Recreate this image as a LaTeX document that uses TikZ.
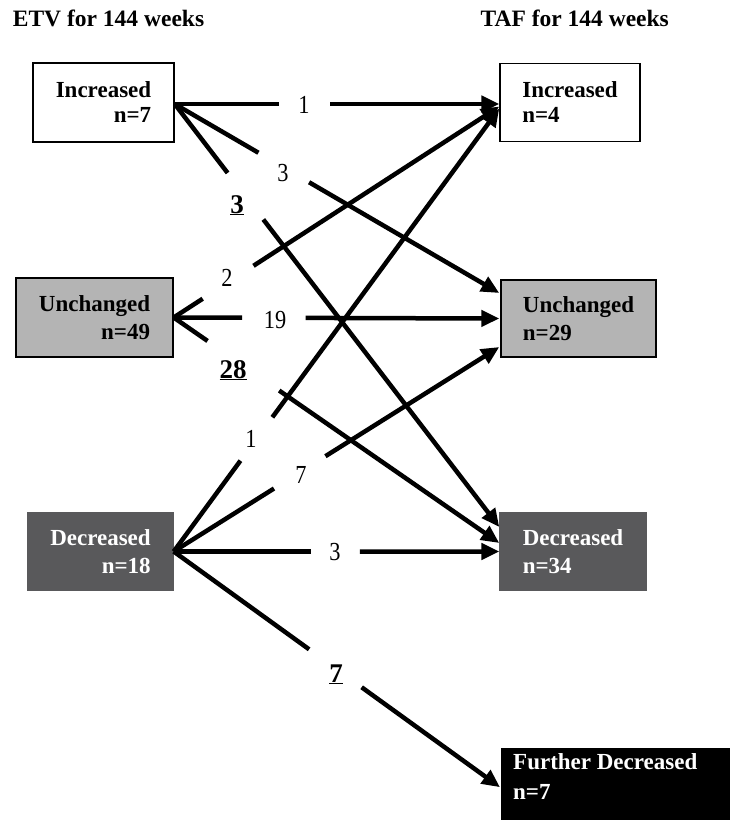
\documentclass[tikz,border=0pt]{standalone}
\usepackage{fontspec}
\setmainfont{Liberation Serif}
\newfontfamily\labfont[FakeStretch=0.86]{Liberation Serif}
\usetikzlibrary{arrows.meta,calc}
\definecolor{midgray}{RGB}{180,180,180}
\definecolor{darkgray}{RGB}{89,89,91}
\begin{document}
\begin{tikzpicture}[x=1pt,y=-1pt,
  boxtxt/.style={font=\fontsize{23}{28}\selectfont\bfseries, inner sep=0pt, draw=black, line width=1.4pt},
  lbox/.style={boxtxt, align=right},
  rbox/.style={boxtxt, align=left},
  darkbox/.style={fill=darkgray, draw=darkgray, text=white},
  graybox/.style={fill=midgray},
  conn/.style={line width=4.5pt},
  arr/.style={line width=4.5pt, -{Triangle[length=18pt,width=16pt]}},
  lab/.style={font=\labfont\fontsize{26}{26}\selectfont, inner sep=0pt, anchor=base},
  blab/.style={font=\fontsize{27}{27}\selectfont\bfseries, inner sep=0pt, anchor=base},
  ttl/.style={font=\fontsize{23.5}{26}\selectfont\bfseries, inner sep=0pt, anchor=base west},
]
\useasboundingbox (0,0) rectangle (729,820);

% titles
\node[ttl] (t1) at (12.7,26.7) {ETV for 144 weeks};
\node[ttl] (t2) at (480.5,26.7) {TAF for 144 weeks};

% boxes
\node[lbox, minimum width=141pt, minimum height=79pt, font=\fontsize{23}{25}\selectfont\bfseries] (incL) at (103.5,102.5) {Increased\\n=7};
\node[lbox, graybox, minimum width=157pt, minimum height=79pt] (unchL) at (94.5,317.5) {Unchanged\\n=49};
\node[lbox, darkbox, minimum width=145pt, minimum height=77pt] (decL) at (100.5,551.5) {Decreased\\n=18};

\node[rbox, minimum width=140pt, minimum height=78pt, font=\fontsize{23}{25}\selectfont\bfseries] (incR) at (570,102.5) {Increased\\n=4};
\node[rbox, graybox, minimum width=155pt, minimum height=77pt] (unchR) at (578.5,318.5) {Unchanged\\n=29};
\node[rbox, darkbox, minimum width=146pt, minimum height=77pt] (decR) at (573,551.5) {Decreased\\n=34};

\node[fill=black, draw=black, inner sep=0pt, minimum width=240pt, minimum height=80pt, anchor=north west] (fd) at (501,748) {};
\node[font=\fontsize{23}{30}\selectfont\bfseries, text=white, align=left, inner sep=0pt, anchor=north west] (fdtxt) at (513,753) {Further Decreased\\n=7};

% origins and tips
\coordinate (oI) at ($(incL.east)+(0,1.5)$);
\coordinate (oU) at (unchL.east);
\coordinate (oD) at (decL.east);
\coordinate (iR1) at ($(incR.west)+(0,1.5)$);
\coordinate (iR2) at ($(incR.west)+(0,4)$);
\coordinate (iR3) at ($(incR.west)+(0,6)$);
\coordinate (uR1) at ($(unchR.west)+(-1,-25.5)$);
\coordinate (uR2) at ($(unchR.west)+(-1,0)$);
\coordinate (uR3) at ($(unchR.west)+(-1,28.5)$);
\coordinate (dR1) at ($(decR.west)+(0,-24.5)$);
\coordinate (dR2) at ($(decR.west)+(0,-8.5)$);
\coordinate (dR3) at (decR.west);
\coordinate (fT) at ($(fd.west)+(-1,-1)$);

% connectors from ETV Increased
\draw[conn] (oI) -- ($(oI)!0.322!(iR1)$);
\draw[arr] ($(oI)!0.479!(iR1)$) -- (iR1);
\draw[conn] (oI) -- ($(oI)!0.258!(uR1)$);
\draw[arr] ($(oI)!0.414!(uR1)$) -- (uR1);
\draw[conn] (oI) -- ($(oI)!0.163!(dR1)$);
\draw[arr] ($(oI)!0.273!(dR1)$) -- (dR1);

% connectors from ETV Unchanged
\draw[conn] (oU) -- ($(oU)!0.089!(iR2)$);
\draw[arr] ($(oU)!0.245!(iR2)$) -- (iR2);
\draw[conn] (oU) -- ($(oU)!0.210!(uR2)$);
\draw[arr] ($(oU)!0.405!(uR2)$) -- (uR2);
\draw[conn] (oU) -- ($(oU)!0.104!(dR2)$);
\draw[arr] ($(oU)!0.324!(dR2)$) -- (dR2);

% connectors from ETV Decreased
\draw[conn] (oD) -- ($(oD)!0.205!(iR3)$);
\draw[arr] ($(oD)!0.303!(iR3)$) -- (iR3);
\draw[conn] (oD) -- ($(oD)!0.308!(uR3)$);
\draw[arr] ($(oD)!0.466!(uR3)$) -- (uR3);
\draw[conn] (oD) -- ($(oD)!0.422!(dR3)$);
\draw[arr] ($(oD)!0.572!(dR3)$) -- (dR3);
\draw[conn] (oD) -- ($(oD)!0.415!(fT)$);
\draw[arr] ($(oD)!0.576!(fT)$) -- (fT);

% labels
\node[lab] (l1) at (304,113) {1};
\node[lab] (l2) at (283,181) {3};
\node[blab] (l3) at (237,213) {\underline{3}};
\node[lab] (l4) at (227,286) {2};
\node[lab] (l5) at (275,328) {19};
\node[blab] (l6) at (233,378) {\underline{28}};
\node[lab] (l7) at (251,447) {1};
\node[lab] (l8) at (301,483) {7};
\node[lab] (l9) at (335,560) {3};
\node[blab] (l10) at (336,682) {\underline{7}};
\end{tikzpicture}
\end{document}
